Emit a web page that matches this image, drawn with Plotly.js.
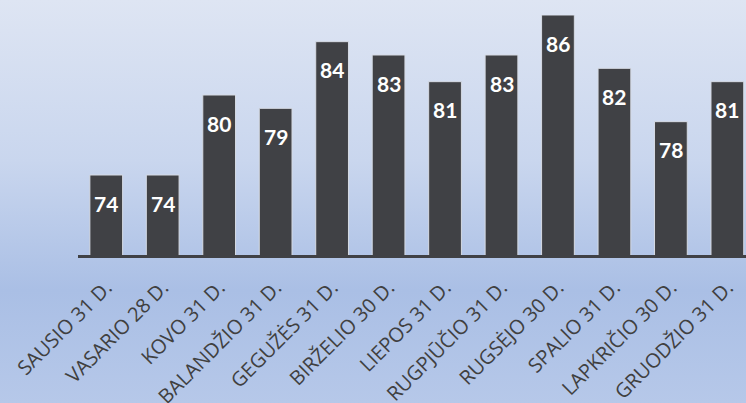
<!DOCTYPE html>
<html>
<head>
<meta charset="utf-8">
<script src="https://cdn.plot.ly/plotly-3.0.1.min.js"></script>
<style>
html, body { margin: 0; padding: 0; overflow: hidden; width: 746px; height: 403px; }
body { background: linear-gradient(to bottom, #dee5f3 0%, #c9d6ee 40%, #aabfe5 72%, #b6c8e9 100%); }
#chart { width: 746px; height: 403px; }
</style>
</head>
<body>
<div id="chart"></div>
<script>
const months = ["SAUSIO 31 D.", "VASARIO 28 D.", "KOVO 31 D.", "BALANDŽIO 31 D.", "GEGUŽĖS 31 D.", "BIRŽELIO 30 D.", "LIEPOS 31 D.", "RUGPJŪČIO 31 D.", "RUGSĖJO 30 D.", "SPALIO 31 D.", "LAPKRIČIO 30 D.", "GRUODŽIO 31 D."];
const values = [74, 74, 80, 79, 84, 83, 81, 83, 86, 82, 78, 81];

const trace = {
  type: 'bar',
  x: months,
  y: values,
  marker: { color: '#404145', line: { color: '#d6dbe4', width: 1 } },
  hoverinfo: 'skip'
};

const annotations = months.map((m, i) => ({
  x: m, y: values[i], text: String(values[i]),
  showarrow: false, yshift: -28, xanchor: 'center', yanchor: 'middle',
  font: { family: 'Lato, "Open Sans", sans-serif', size: 21, color: '#ffffff', weight: 'bold' }
}));

const layout = {
  width: 746, height: 403,
  margin: { l: 78, r: 0, t: 15, b: 148, pad: 0 },
  paper_bgcolor: 'rgba(0,0,0,0)',
  plot_bgcolor: 'rgba(0,0,0,0)',
  bargap: 0.42,
  showlegend: false,
  xaxis: {
    type: 'category',
    range: [-0.5, 11.33],
    showline: true, linecolor: '#404145', linewidth: 3,
    showgrid: false, zeroline: false,
    ticks: '', tickangle: -45, ticklabelstandoff: 10,
    tickfont: { family: '"Open Sans", sans-serif', size: 20, color: '#404040' }
  },
  yaxis: {
    range: [68, 86],
    visible: false, showgrid: false, zeroline: false, fixedrange: true
  },
  annotations: annotations
};

Plotly.newPlot('chart', [trace], layout, { displayModeBar: false, staticPlot: true });
</script>
</body>
</html>
